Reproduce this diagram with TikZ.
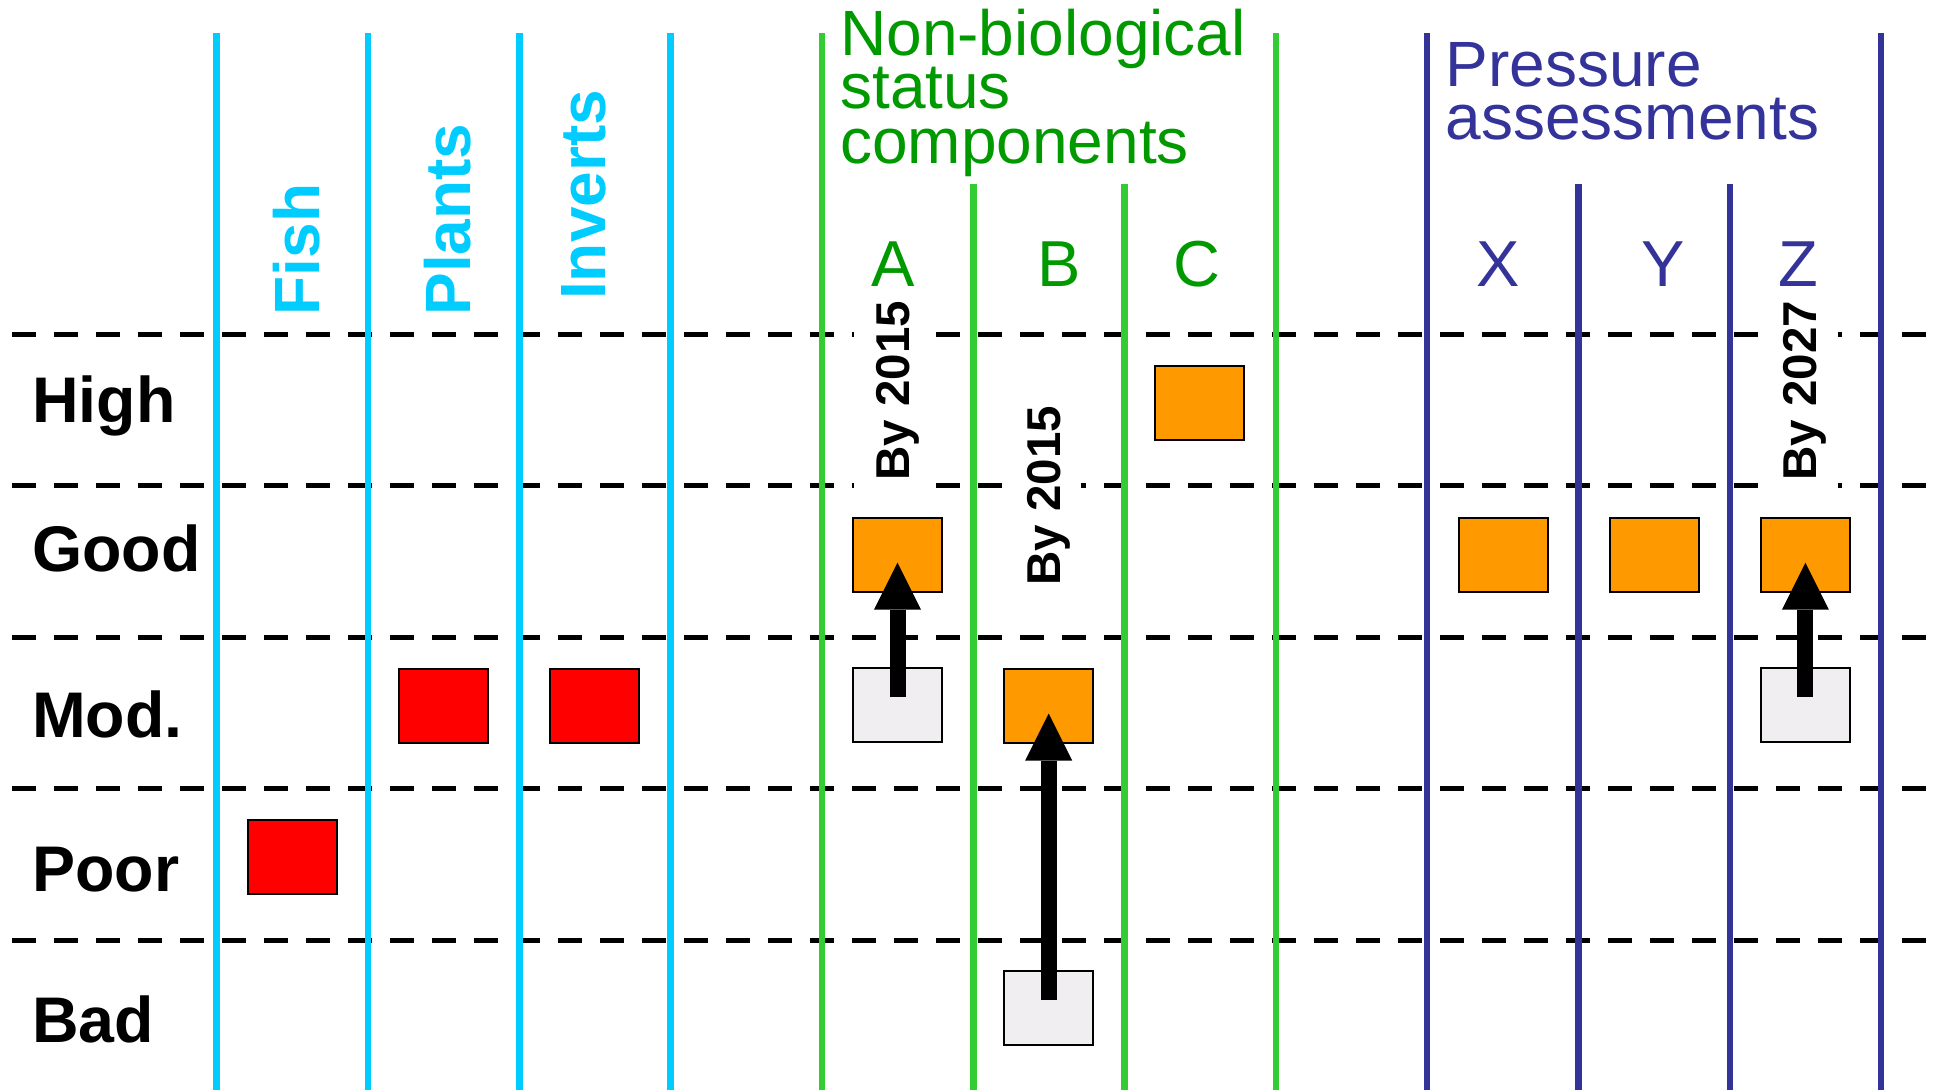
\documentclass[tikz,border=0pt]{standalone}
\usepackage{fontspec}
\setmainfont{Liberation Sans}
\usetikzlibrary{arrows.meta}
\definecolor{cyanline}{HTML}{00CCFF}
\definecolor{greenline}{HTML}{33CC33}
\definecolor{greentext}{HTML}{009900}
\definecolor{blueline}{HTML}{333399}
\definecolor{boxorange}{HTML}{FF9900}
\definecolor{boxred}{HTML}{FF0000}
\definecolor{boxgrey}{HTML}{F0EEF0}
\begin{document}
\begin{tikzpicture}[x=1pt,y=-1pt,
  gridline/.style={line width=5pt, dash pattern=on 24pt off 18pt},
  vline/.style={line width=6.5pt},
  cell/.style={draw=black, line width=2pt, minimum width=89pt, minimum height=74pt, inner sep=0pt},
  redcell/.style={cell, fill=boxred},
  orangecell/.style={cell, fill=boxorange},
  greycell/.style={cell, fill=boxgrey},
  rowlabel/.style={anchor=base west, inner sep=0pt, font=\fontsize{64.5}{64.5}\selectfont\bfseries},
  biolabel/.style={rotate=90, anchor=base west, inner sep=0pt, text=cyanline, font=\fontsize{64}{64}\selectfont\bfseries},
  letterlabel/.style={anchor=base, inner sep=0pt, font=\fontsize{65}{65}\selectfont},
  titleline/.style={anchor=base west, inner sep=0pt},
  bylabel/.style={rotate=90, anchor=base, fill=white, text height=44pt, text depth=10pt, inner xsep=12pt, inner ysep=11pt, font=\fontsize{47.5}{47.5}\selectfont\bfseries},
  bigarrow/.style={line width=16pt, -{Triangle[width=47pt,length=47pt,line width=0pt]}}
]
\useasboundingbox (0,0) rectangle (1936,1092);
\fill[white] (0,0) rectangle (1936,1092);

% dashed class boundaries
\foreach \yy in {334,485.5,637,788.5,940}
  \draw[gridline] (12,\yy) -- (1936,\yy);

% vertical column lines
\foreach \xx in {216.5,368,519.3,670.7}
  \draw[vline, cyanline] (\xx,33) -- (\xx,1090);
\draw[vline, greenline] (822,33) -- (822,1090);
\draw[vline, greenline] (973.3,184) -- (973.3,1090);
\draw[vline, greenline] (1124.6,184) -- (1124.6,1090);
\draw[vline, greenline] (1276,33) -- (1276,1090);
\draw[vline, blueline] (1427.2,33) -- (1427.2,1090);
\draw[vline, blueline] (1578.5,184) -- (1578.5,1090);
\draw[vline, blueline] (1729.8,184) -- (1729.8,1090);
\draw[vline, blueline] (1881,33) -- (1881,1090);

% row labels
\node[rowlabel] (lhigh) at (32,422.7) {High};
\node[rowlabel] (lgood) at (32,571.5) {Good};
\node[rowlabel] (lmod)  at (32,737) {Mod.};
\node[rowlabel] (lpoor) at (32,891.7) {Poor};
\node[rowlabel] (lbad)  at (32,1042.7) {Bad};

% biological column headers
\node[biolabel] (hfish)   at (319,315.5) {Fish};
\node[biolabel] (hplants) at (470,315.7) {Plants};
\node[biolabel] (hinv)    at (605.8,300) {Inverts};

% group titles
\begin{scope}[font=\fontsize{64}{64}\selectfont, text=greentext]
\node[titleline] (tg1) at (840,55) {Non-biological};
\node[titleline] (tg2) at (840,108.3) {status};
\node[titleline] (tg3) at (840,163.3) {components};
\end{scope}
\begin{scope}[font=\fontsize{64}{64}\selectfont, text=blueline]
\node[titleline] (tb1) at (1445.5,86) {Pressure};
\node[titleline] (tb2) at (1445.5,139.3) {assessments};
\end{scope}

% column letters
\node[letterlabel, text=greentext] (cA) at (892.7,286) {A};
\node[letterlabel, text=greentext] (cB) at (1059.5,286) {B};
\node[letterlabel, text=greentext] (cC) at (1196.5,286) {C};
\node[letterlabel, text=blueline] (cX) at (1498,286) {X};
\node[letterlabel, text=blueline] (cY) at (1663.6,286) {Y};
\node[letterlabel, text=blueline] (cZ) at (1798,286) {Z};

% target labels
\node[bylabel] (byA) at (909,390.5) {By 2015};
\node[bylabel] (byB) at (1060,495.5) {By 2015};
\node[bylabel] (byZ) at (1816.7,390.5) {By 2027};

% status boxes
\node[redcell] (fishpoor) at (292.5,857) {};
\node[redcell] (plantsmod) at (443.6,706) {};
\node[redcell] (invmod) at (594.8,706) {};
\node[orangecell] (agood) at (897.5,554.7) {};
\node[greycell] (amod) at (897.5,705.2) {};
\node[orangecell] (bmod) at (1048.7,706) {};
\node[greycell] (bbad) at (1048.7,1008.3) {};
\node[orangecell] (chigh) at (1199.7,402.7) {};
\node[orangecell] (xgood) at (1503,554.7) {};
\node[orangecell] (ygood) at (1654.2,554.7) {};
\node[orangecell] (zgood) at (1805.4,554.7) {};
\node[greycell] (zmod) at (1805.4,705.2) {};

% improvement arrows
\draw[bigarrow] ([yshift=8pt]amod.center) -- ([yshift=-8pt]agood.center);
\draw[bigarrow] ([yshift=8pt]bbad.center) -- ([yshift=-7.5pt]bmod.center);
\draw[bigarrow] ([yshift=8pt]zmod.center) -- ([yshift=-8pt]zgood.center);
\end{tikzpicture}
\end{document}
